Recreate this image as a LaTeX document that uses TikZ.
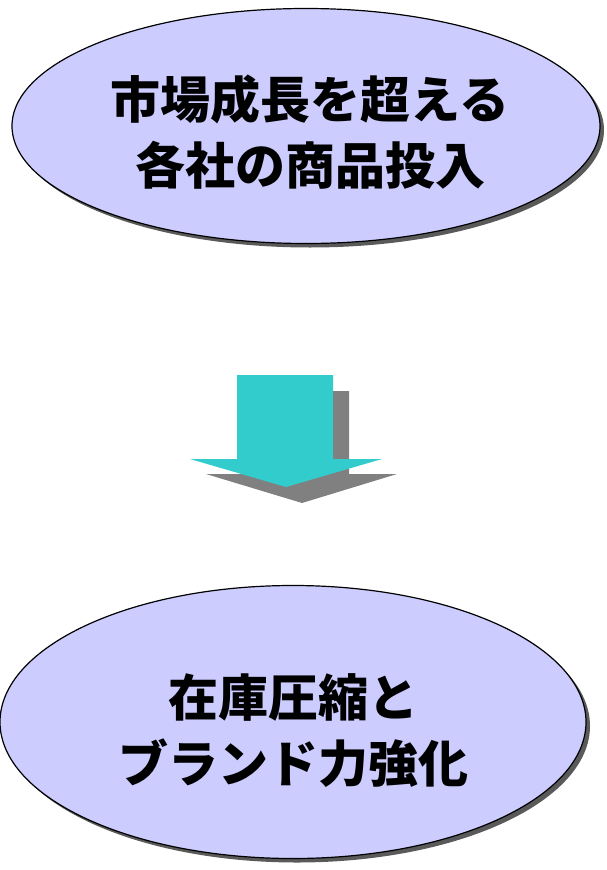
\documentclass[tikz,border=0pt]{standalone}
\usepackage{fontspec}
\newfontfamily\cjk{Noto Sans CJK JP}
\usetikzlibrary{shapes.geometric}
\definecolor{ellfill}{HTML}{CCCCFF}
\definecolor{arrowteal}{HTML}{33CCCC}
\definecolor{shadowgray}{HTML}{808080}
\begin{document}
\begin{tikzpicture}[x=1pt,y=-1pt,
  bubble/.style={ellipse, draw=black, line width=1.2pt, fill=ellfill, inner sep=0pt},
  bubbleshadow/.style={ellipse, fill=shadowgray!70!black, inner sep=0pt},
  label/.style={font=\cjk\bfseries\fontsize{50}{66}\selectfont, align=center, text=black}]
\useasboundingbox (0,0) rectangle (606,870);
% top ellipse
\node[bubbleshadow, minimum width=588pt, minimum height=235pt] (topsh) at (310,130) {};
\node[bubble, minimum width=588pt, minimum height=235pt] (top) at (306,126) {};
\node[label] (toptext) at (310,132) {市場成長を超える\\各社の商品投入};
% arrow shadow
\fill[shadowgray] (253,391) -- (349,391) -- (349,474) -- (397,474) -- (302,503) -- (206,474) -- (253,474) -- cycle;
% arrow
\fill[arrowteal] (237,375) -- (333,375) -- (333,459) -- (382,459) -- (286,487) -- (190,459) -- (237,459) -- cycle;
% bottom ellipse
\node[bubbleshadow, minimum width=586pt, minimum height=273pt] (botsh) at (297,726) {};
\node[bubble, minimum width=586pt, minimum height=273pt] (bot) at (293,722) {};
\node[label] (bottext) at (293,731) {在庫圧縮と\\ブランド力強化};
\end{tikzpicture}
\end{document}
